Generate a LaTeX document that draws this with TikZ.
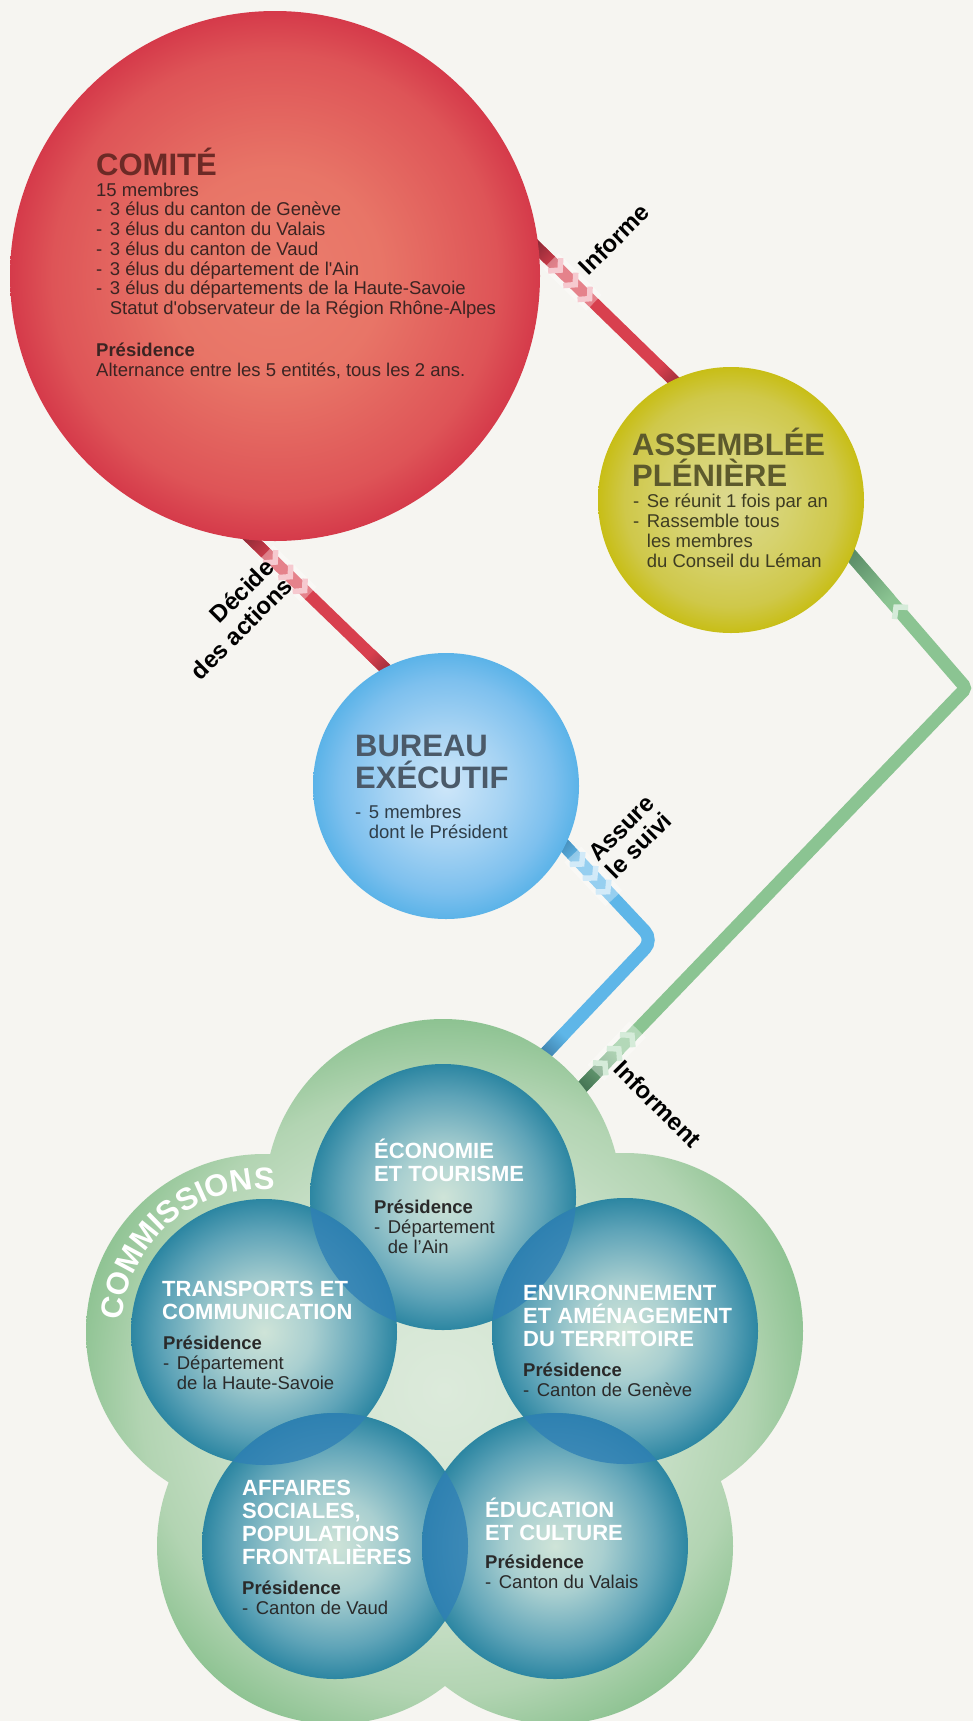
\documentclass[tikz,border=0pt]{standalone}
\usepackage{fontspec}
\setmainfont{Liberation Sans}
\usetikzlibrary{decorations.text}

\definecolor{bg}{HTML}{F6F5F1}
\definecolor{redM}{HTML}{D8404E}
\definecolor{redD}{HTML}{7B2430}
\definecolor{redP}{HTML}{F6C9CF}
\definecolor{bluM}{HTML}{5EB6E8}
\definecolor{bluD}{HTML}{2A5F85}
\definecolor{bluP}{HTML}{D2EAF8}
\definecolor{grnM}{HTML}{8BC492}
\definecolor{grnD}{HTML}{3C6A4C}
\definecolor{grnP}{HTML}{D5EBD9}
\definecolor{comA}{HTML}{EB7D6D}
\definecolor{comB}{HTML}{E87567}
\definecolor{comC}{HTML}{DE5457}
\definecolor{comD}{HTML}{D53A4A}
\definecolor{assA}{HTML}{DCD990}
\definecolor{assB}{HTML}{D6D26E}
\definecolor{assC}{HTML}{CFC84A}
\definecolor{assD}{HTML}{C8BE16}
\definecolor{burA}{HTML}{CDE6F9}
\definecolor{burB}{HTML}{A6D3F3}
\definecolor{burC}{HTML}{7DC0EE}
\definecolor{burD}{HTML}{5BB3E8}
\definecolor{blA}{HTML}{CFE4D8}
\definecolor{blB}{HTML}{A9CFD0}
\definecolor{blC}{HTML}{5FA4B8}
\definecolor{blD}{HTML}{2C86A2}
\definecolor{clA}{HTML}{DCEADB}
\definecolor{clB}{HTML}{CFE3CE}
\definecolor{clC}{HTML}{B2D4B2}
\definecolor{clD}{HTML}{88C08D}
\definecolor{lens}{HTML}{2F80B5}
\definecolor{comt}{HTML}{6C2A26}
\definecolor{comb}{HTML}{3B2422}
\definecolor{asst}{HTML}{5D5A2C}
\definecolor{assb}{HTML}{3E3C22}
\definecolor{burt}{HTML}{4B5A69}
\definecolor{burb}{HTML}{2F3D48}
\definecolor{cbt}{HTML}{2A2A2A}

\pgfdeclareradialshading{comsh}{\pgfpoint{0bp}{0bp}}{color(0bp)=(comA); color(10bp)=(comB); color(21bp)=(comC); color(25bp)=(comD); color(50bp)=(comD)}
\pgfdeclareradialshading{asssh}{\pgfpoint{0bp}{0bp}}{color(0bp)=(assA); color(11bp)=(assB); color(20bp)=(assC); color(25bp)=(assD); color(50bp)=(assD)}
\pgfdeclareradialshading{bursh}{\pgfpoint{0bp}{0bp}}{color(0bp)=(burA); color(11bp)=(burB); color(20bp)=(burC); color(25bp)=(burD); color(50bp)=(burD)}
\pgfdeclareradialshading{blsh}{\pgfpoint{0bp}{0bp}}{color(0bp)=(blA); color(9bp)=(blB); color(19bp)=(blC); color(25bp)=(blD); color(50bp)=(blD)}
\pgfdeclareradialshading{clsh}{\pgfpoint{0bp}{0bp}}{color(0bp)=(clA); color(12.5bp)=(clB); color(20bp)=(clC); color(25bp)=(clD); color(50bp)=(clD)}

\newcommand\fsz[2]{\fontsize{#1pt}{#2pt}\selectfont\lineskiplimit=-100pt\lineskip=0pt\relax}
\newcommand\dsh{\makebox[0.74em][l]{-}}
\newcommand\indt{\hspace*{0.74em}}
\newcommand\stt{\rule{0pt}{1em}}
\newcommand\commfont{\fontsize{31pt}{31pt}\selectfont\bfseries}
\newcommand\lnshade[7]{\begin{scope}[transform canvas={shift={(#1,#2)},rotate=#3}]\shade[left color=#6,right color=#7] (0,-#5/2) rectangle (#4,#5/2);\end{scope}}
\newcommand\chev[4]{\begin{scope}[shift={(#1,#2)},rotate=#3]\draw[#4, line width=5.5pt, line join=miter, line cap=butt] (-5,-9) -- (3,0) -- (-5,9);\end{scope}}
\newcommand\halo[4]{\begin{scope}[shift={(#1,#2)},rotate=#3]\fill[white, opacity=0.35] (-10,-#4/2-5) rectangle (50,#4/2+5);\end{scope}}

\tikzset{
  ttl/.style={font=\fsz{31}{31.6}\bfseries, inner sep=0pt, align=left, anchor=north west},
  bodyt/.style={font=\fsz{18.5}{19.7}, inner sep=0pt, align=left, anchor=north west},
  cttl/.style={font=\fsz{22}{23}\bfseries, text=white, inner sep=0pt, align=left, anchor=north west},
  cbody/.style={font=\fsz{18.5}{20.3}, text=cbt, inner sep=0pt, align=left, anchor=north west},
  lbl/.style={font=\fsz{24}{25}\bfseries, text=black, inner sep=0pt, align=center},
  redline/.style={draw=redM, line width=12pt},
  blueline/.style={draw=bluM, line width=13pt, rounded corners=12pt},
  greenline/.style={draw=grnM, line width=13pt, rounded corners=4pt},
  lensfill/.style={fill=lens, fill opacity=0.8}
}

\begin{document}
\begin{tikzpicture}[x=1pt,y=-1pt]
\useasboundingbox (0,0) rectangle (973,1721);
\fill[bg] (0,0) rectangle (973,1721);

% centres
\coordinate (comc) at (275,276);
\coordinate (assc) at (731,500);
\coordinate (burc) at (446,786);
\coordinate (eco) at (443,1197);
\coordinate (tra) at (264,1332);
\coordinate (env) at (625,1331);
\coordinate (aff) at (335,1546);
\coordinate (edu) at (555,1546);
\coordinate (penta) at (444,1390);
% connector ends
\coordinate (inf1) at (525.7,236.6);
\coordinate (inf2) at (690.6,396.9);
\coordinate (dec1) at (240.6,528.7);
\coordinate (dec2) at (402.4,685.1);
\coordinate (bl1) at (536.6,815.8);
\coordinate (blk) at (653,940);
\coordinate (bl2) at (525.7,1074.3);
\coordinate (gr1) at (827.1,527.5);
\coordinate (grk) at (966,688);
\coordinate (gr2) at (564.1,1105.9);

% connectors
\draw[greenline] (gr1) -- (grk) -- (gr2);
\draw[blueline] (bl1) -- (blk) -- (bl2);
\draw[redline] (inf1) -- (inf2);
\draw[redline] (dec1) -- (dec2);

% dark ends
\lnshade{529.3}{240.1}{-44.2}{38}{12}{redD}{redM}
\lnshade{659.1}{366.3}{-44.2}{40}{12}{redM}{redD}
\lnshade{240.6}{528.7}{-44}{42}{12}{redD}{redM}
\lnshade{370.1}{653.8}{-44}{40}{12}{redM}{redD}
\lnshade{543.5}{823.1}{-46.9}{50}{13}{bluD}{bluM}
\lnshade{563.6}{1034.4}{-133.5}{45}{13}{bluM}{bluD}
\lnshade{827.1}{527.5}{-49.1}{95}{13}{grnD}{grnM}
\lnshade{619.5}{1048.3}{-133.9}{60}{13}{grnM}{grnD}

% chevrons
\halo{558}{268}{-44.2}{12}
\chev{558}{268}{-44.2}{redP}
\chev{573.1}{282.6}{-44.2}{redP}
\chev{587.4}{296.6}{-44.2}{redP}
\halo{273}{560}{-44}{12}
\chev{273}{560}{-44}{redP}
\chev{288.1}{574.6}{-44}{redP}
\chev{302.5}{588.5}{-44}{redP}
\halo{579.7}{861.8}{-46.9}{13}
\chev{579.7}{861.8}{-46.9}{bluP}
\chev{592.7}{875.7}{-46.9}{bluP}
\chev{605.7}{889.5}{-46.9}{bluP}
\halo{602.9}{1065.5}{46.1}{13}
\chev{629.9}{1037.4}{46.1}{grnP}
\chev{616.7}{1051.1}{46.1}{grnP}
\chev{602.9}{1065.5}{46.1}{grnP}
\chev{898}{609.4}{130.9}{grnP}

% commissions cloud
\begin{scope}
  \clip (eco) circle (178) (tra) circle (178) (env) circle (178) (aff) circle (178) (edu) circle (178) (penta) circle (150);
  \shade[shading=clsh] (penta) circle (380);
\end{scope}
\path[decorate, decoration={text along path, text={|\commfont|COMMISSIONS}, text align=center, text color=white}] (121,1331) arc[start angle=-179.6, end angle=-81.6, radius=143];

% commission circles
\foreach \c in {eco,tra,env,aff,edu} { \shade[shading=blsh] (\c) circle (133); }
\begin{scope}\clip (eco) circle (133); \fill[lensfill] (tra) circle (133);\end{scope}
\begin{scope}\clip (eco) circle (133); \fill[lensfill] (env) circle (133);\end{scope}
\begin{scope}\clip (tra) circle (133); \fill[lensfill] (aff) circle (133);\end{scope}
\begin{scope}\clip (env) circle (133); \fill[lensfill] (edu) circle (133);\end{scope}
\begin{scope}\clip (aff) circle (133); \fill[lensfill] (edu) circle (133);\end{scope}

% main circles
\shade[shading=comsh] (comc) circle (265);
\shade[shading=asssh] (assc) circle (133);
\shade[shading=bursh] (burc) circle (133);

% Comite text
\node[ttl, text=comt, anchor=base west] (comtitle) at (96,175) {COMITÉ};
\node[bodyt, text=comb] (combody) at (96,177.5) {\stt 15 membres\\
\dsh 3 élus du canton de Genève\\
\dsh 3 élus du canton du Valais\\
\dsh 3 élus du canton de Vaud\\
\dsh 3 élus du département de l\textquotesingle Ain\\
\dsh 3 élus du départements de la Haute-Savoie\\
\indt Statut d\textquotesingle observateur de la Région Rhône-Alpes\\[22.7pt]
\textbf{Présidence}\\
Alternance entre les 5 entités, tous les 2 ans.};

% Assemblee text
\node[ttl, text=asst] (asstitle) at (632,424) {\stt ASSEMBLÉE\\PLÉNIÈRE};
\node[bodyt, text=assb, font=\fsz{18.5}{20}] (assbody) at (633,489) {\stt\dsh Se réunit 1 fois par an\\
\dsh Rassemble tous\\
\indt les membres\\
\indt du Conseil du Léman};

% Bureau text
\node[ttl, text=burt, font=\fsz{31}{32}\bfseries] (burtitle) at (355,725) {\stt BUREAU\\EXÉCUTIF};
\node[bodyt, text=burb, font=\fsz{18.5}{20}] (burbody) at (355,799.5) {\stt\dsh 5 membres\\
\indt dont le Président};

% Commissions text
\node[cttl] (ecot) at (374,1136.7) {\stt ÉCONOMIE\\ET TOURISME};
\node[cbody] (ecob) at (374,1194.5) {\stt\textbf{Présidence}\\ \dsh Département\\ \indt de l’Ain};
\node[cttl] (trat) at (162,1274.6) {\stt TRANSPORTS ET\\COMMUNICATION};
\node[cbody] (trab) at (163,1330.5) {\stt\textbf{Présidence}\\ \dsh Département\\ \indt de la Haute-Savoie};
\node[cttl] (envt) at (523,1278) {\stt ENVIRONNEMENT\\ET AMÉNAGEMENT\\DU TERRITOIRE};
\node[cbody] (envb) at (523,1357.5) {\stt\textbf{Présidence}\\ \dsh Canton de Genève};
\node[cttl] (afft) at (242,1473) {\stt AFFAIRES\\SOCIALES,\\POPULATIONS\\FRONTALIÈRES};
\node[cbody] (affb) at (242,1575.5) {\stt\textbf{Présidence}\\ \dsh Canton de Vaud};
\node[cttl] (edut) at (485,1495) {\stt ÉDUCATION\\ET CULTURE};
\node[cbody] (edub) at (485,1549.5) {\stt\textbf{Présidence}\\ \dsh Canton du Valais};

% connector labels
\node[lbl, rotate=45] (linf) at (614,239) {Informe};
\node[lbl, rotate=45, align=right, font=\fsz{24}{26}\bfseries] (ldec) at (232,619) {Décide\\des actions};
\node[lbl, rotate=45, font=\fsz{24}{24.5}\bfseries] (lass) at (630,837) {Assure\\le suivi};
\node[lbl, rotate=-45] (linft) at (658,1104) {Informent};
\end{tikzpicture}
\end{document}
